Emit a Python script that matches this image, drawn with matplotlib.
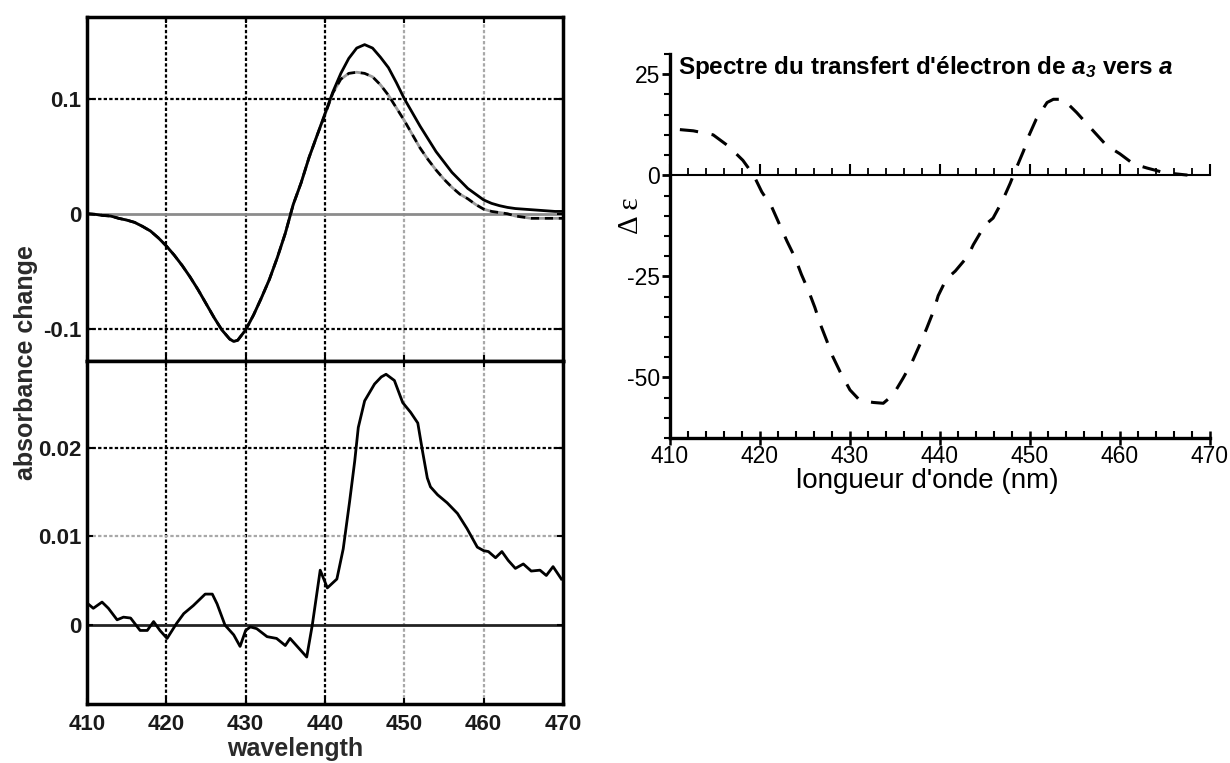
import matplotlib
matplotlib.use('Agg')
import matplotlib.pyplot as plt
from matplotlib.ticker import MultipleLocator, FixedLocator

plt.rcParams['axes.unicode_minus'] = False
plt.rcParams['mathtext.fontset'] = 'custom'
plt.rcParams['mathtext.it'] = 'Liberation Sans:bold:italic'
plt.rcParams['mathtext.rm'] = 'Liberation Sans:bold:italic'
plt.rcParams['mathtext.bf'] = 'Liberation Sans:bold:italic'

# ---------------- data ----------------
wl_top = [410, 411, 412, 413, 414, 415, 416, 417, 418, 419, 420, 421, 422, 423, 424,
          425, 426, 427, 428, 428.5, 429, 430, 431, 432, 433, 434, 435, 436, 437, 438,
          439, 440, 441, 442, 443, 444, 445, 446, 447, 448, 449, 450, 451, 452, 453,
          454, 455, 456, 457, 458, 459, 460, 461, 462, 463, 464, 465, 466, 467, 468,
          469, 470]
abs_solid = [0.000, -0.0005, -0.0015, -0.002, -0.004, -0.0055, -0.0075, -0.011, -0.015,
             -0.021, -0.028, -0.036, -0.045, -0.055, -0.066, -0.078, -0.090, -0.101,
             -0.109, -0.111, -0.110, -0.101, -0.088, -0.073, -0.057, -0.038, -0.017,
             0.008, 0.027, 0.049, 0.068, 0.087, 0.106, 0.122, 0.135, 0.144, 0.147,
             0.144, 0.136, 0.127, 0.114, 0.100, 0.088, 0.076, 0.065, 0.054, 0.045,
             0.036, 0.029, 0.022, 0.017, 0.012, 0.009, 0.007, 0.0055, 0.0045, 0.004,
             0.0035, 0.003, 0.0025, 0.002, 0.002]
abs_dashed = [0.000, -0.0005, -0.0015, -0.002, -0.004, -0.0055, -0.0075, -0.011, -0.015,
              -0.021, -0.028, -0.036, -0.045, -0.055, -0.066, -0.078, -0.090, -0.101,
              -0.109, -0.111, -0.110, -0.101, -0.088, -0.073, -0.057, -0.038, -0.017,
              0.008, 0.027, 0.049, 0.068, 0.086, 0.105, 0.117, 0.122, 0.123, 0.122,
              0.119, 0.112, 0.103, 0.092, 0.081, 0.069, 0.057, 0.047, 0.038, 0.030,
              0.023, 0.017, 0.013, 0.008, 0.004, 0.002, 0.001, 0.000, -0.002, -0.003,
              -0.004, -0.004, -0.004, -0.004, -0.004]

wl_bot = [410.0, 410.8, 411.9, 412.7, 413.8, 414.6, 415.5, 416.7, 417.6, 418.4, 419.2,
          420.1, 421.3, 422.2, 423.4, 424.9, 425.8, 426.4, 427.4, 428.5, 429.3, 430.0,
          430.6, 431.4, 432.7, 433.9, 435.0, 435.6, 436.7, 437.7, 438.4, 439.4, 440.3,
          441.5, 442.3, 443.1, 443.75, 444.2, 445.0, 446.25, 447.1, 447.7, 448.75,
          449.8, 450.8, 451.7, 452.3, 452.9, 453.3, 454.2, 455.4, 456.7, 457.9, 459.2,
          460.0, 460.6, 461.5, 462.3, 463.1, 464.0, 465.0, 466.0, 467.1, 467.9, 468.75,
          469.8]
abs_diff = [0.0025, 0.0019, 0.0026, 0.0019, 0.0006, 0.0009, 0.0008, -0.0006, -0.0006,
            0.0004, -0.0006, -0.0015, 0.0002, 0.0013, 0.0022, 0.0035, 0.0035, 0.0024,
            0.0, -0.0011, -0.0024, -0.0006, -0.0002, -0.0004, -0.0013, -0.0015, -0.0023,
            -0.0015, -0.0026, -0.0036, 0.0, 0.0062, 0.0042, 0.0052, 0.0086, 0.0139,
            0.0185, 0.0223, 0.0253, 0.0272, 0.0280, 0.0283, 0.0276, 0.0251, 0.0240,
            0.0228, 0.0196, 0.0166, 0.0156, 0.0147, 0.0138, 0.0126, 0.0109, 0.0088,
            0.0084, 0.0083, 0.0076, 0.0083, 0.0073, 0.0064, 0.0069, 0.0061, 0.0062,
            0.0056, 0.0066, 0.0052]

wl_right = [411.1, 412.6, 414.8, 416.5, 418.1, 419.3, 420.2, 421.3, 422.2, 423.0, 423.9,
            424.6, 425.4, 426.1, 426.7, 427.4, 428.1, 428.9, 430.0, 431.1, 432.6, 433.7,
            434.8, 435.9, 436.9, 437.8, 438.5, 439.3, 439.8, 440.7, 441.7, 443.1, 443.7,
            445.0, 445.9, 446.9, 447.8, 448.3, 449.3, 449.8, 450.7, 451.9, 452.6, 453.7,
            455.2, 456.7, 458.5, 460.0, 461.5, 463.0, 464.5, 466.0, 467.5]
delta_eps = [11.3, 11.0, 10.0, 7.2, 3.7, 0.0, -4.1, -7.8, -12.3, -16.3, -20.4, -24.5,
             -28.6, -32.7, -36.8, -40.8, -44.9, -48.6, -53.1, -55.7, -56.2, -56.4, -54.3,
             -50.2, -46.2, -41.7, -38.0, -33.5, -29.8, -25.7, -23.7, -20.0, -17.2, -12.3,
             -10.6, -6.5, -2.0, 0.8, 6.1, 9.4, 13.9, 18.0, 18.8, 18.8, 15.5, 11.8, 7.4,
             5.3, 2.8, 1.8, 0.9, 0.4, 0.05]

left_xticks = [410, 420, 430, 440, 450, 460, 470]
left_xlabels = ['410', '420', '430', '440', '450', '460', '470']
top_yticks = [-0.1, 0, 0.1]
top_ylabels = ['-0.1', '0', '0.1']
bot_yticks = [0, 0.01, 0.02]
bot_ylabels = ['0', '0.01', '0.02']
right_yticks = [-50, -25, 0, 25]
right_ylabels = ['-50', '-25', '0', '25']

title_text = r"Spectre du transfert d'électron de $a_3$ vers $a$"

# ---------------- figure ----------------
fig = plt.figure(figsize=(12.3, 7.63), dpi=100)
ax1 = fig.add_axes([0.0707, 0.5269, 0.387, 0.4508])
ax2 = fig.add_axes([0.0707, 0.0773, 0.387, 0.4496])
ax3 = fig.add_axes([0.5447, 0.4259, 0.439, 0.5033])

tick_font = dict(family='Liberation Sans', weight='bold', size=16)
ink = '#1a1a1a'
grey = '#a8a8a8'
dot = (0, (1.5, 1.0))


def style_left(ax, yt, yl, dark_h, light_h, zero_col):
    ax.set_xlim(410, 470)
    for x in left_xticks[1:4]:
        ax.axvline(x, color='black', lw=1.6, ls=dot, zorder=1)
    for x in left_xticks[4:6]:
        ax.axvline(x, color=grey, lw=1.6, ls=dot, zorder=1)
    for y in dark_h:
        ax.axhline(y, color='black', lw=1.6, ls=dot, zorder=1)
    for y in light_h:
        ax.axhline(y, color=grey, lw=1.6, ls=dot, zorder=1)
    ax.axhline(0, color=zero_col, lw=2, zorder=1)
    ax.set_xticks(left_xticks)
    ax.set_xticklabels(left_xlabels, **tick_font, color=ink)
    ax.set_yticks(yt)
    ax.set_yticklabels(yl, **tick_font, color=ink)
    ax.tick_params(direction='in', length=4, width=1.5, top=True, right=True, pad=4)
    for s in ax.spines.values():
        s.set_linewidth(2.5)
        s.set_color('black')


ax1.plot(wl_top, abs_solid, color='black', lw=2.0, zorder=3)
ax1.plot(wl_top, abs_dashed, color='black', lw=2.0, ls=(0, (3, 2)),
         gapcolor='#9a9a9a', zorder=2)
ax1.set_ylim(-0.128, 0.171)
style_left(ax1, top_yticks, top_ylabels, [0.1, -0.1], [], '#8c8c8c')
ax1.tick_params(labelbottom=False)

ax2.plot(wl_bot, abs_diff, color='black', lw=2.0, zorder=3)
ax2.set_ylim(-0.0089, 0.0298)
style_left(ax2, bot_yticks, bot_ylabels, [0.02], [0.01], '#222222')
ax2.tick_params(axis='x', pad=7)

fig.text(26 / 1230, 1 - 363 / 763, 'absorbance change', rotation=90, ha='center',
         va='center', family='Liberation Sans', weight='bold', size=18, color='#2a2a2a')
ax2.set_xlabel('wavelength', family='Liberation Sans', weight='bold', size=18,
               color='#2a2a2a', va='baseline')
ax2.xaxis.set_label_coords(0.437, -0.152)

# ---------------- right panel ----------------
ax3.plot(wl_right, delta_eps, color='black', lw=2.2, dashes=(6, 4.5))
ax3.set_xlim(410, 470)
ax3.set_ylim(-65, 30)
ax3.spines['top'].set_visible(False)
ax3.spines['right'].set_visible(False)
ax3.spines['left'].set_linewidth(2.4)
ax3.spines['bottom'].set_linewidth(2.4)
ax3.xaxis.set_major_locator(MultipleLocator(10))
ax3.xaxis.set_minor_locator(MultipleLocator(2))
ax3.yaxis.set_major_locator(FixedLocator(right_yticks))
ax3.set_yticklabels(right_ylabels)
ax3.yaxis.set_minor_locator(MultipleLocator(5))
ax3.tick_params(axis='x', which='major', direction='inout', length=10, width=1.8,
                labelsize=16.5, pad=0)
ax3.tick_params(axis='x', which='minor', direction='in', length=5, width=1.5)
ax3.tick_params(axis='y', which='major', direction='out', length=6, width=2,
                labelsize=16.5, pad=1)
ax3.tick_params(axis='y', which='minor', direction='out', length=4, width=1.5)
for lab in ax3.get_xticklabels() + ax3.get_yticklabels():
    lab.set_family('Liberation Sans')

ylo, yhi = ax3.get_ylim()
sec = ax3.secondary_xaxis((0 - ylo) / (yhi - ylo))
sec.xaxis.set_major_locator(MultipleLocator(10))
sec.xaxis.set_minor_locator(MultipleLocator(2))
sec.tick_params(which='major', direction='out', length=8, width=1.5,
                labeltop=False, labelbottom=False)
sec.tick_params(which='minor', direction='out', length=5, width=1.3)
for s in sec.spines.values():
    s.set_linewidth(1.5)

ax3.set_xlabel("longueur d'onde (nm)", family='Liberation Sans', size=20)
ax3.xaxis.set_label_coords(0.477, -0.078)
ax3.set_ylabel('Δ ε', family='Liberation Serif', size=21, va='center', ha='center')
ax3.yaxis.set_label_coords(-0.072, 0.58)

ax3.text(0.015, 0.948, title_text, transform=ax3.transAxes, fontweight='bold',
         fontsize=17.5, family='Liberation Sans', va='baseline', ha='left')

fig.savefig('out.png', dpi=100)
